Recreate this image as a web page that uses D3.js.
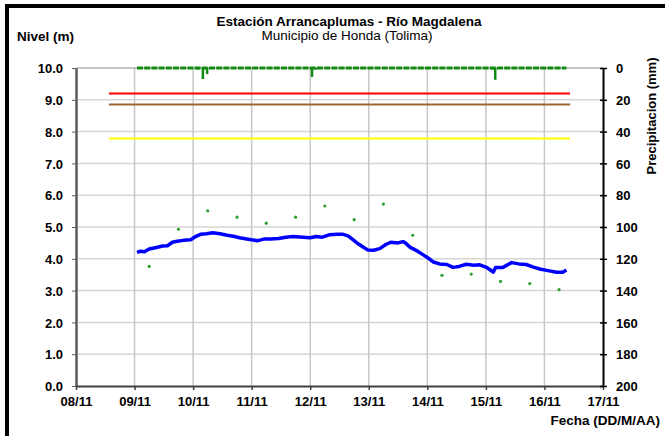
<!DOCTYPE html>
<html>
<head>
<meta charset="utf-8">
<script src="https://cdn.jsdelivr.net/npm/d3@7"></script>
<style>
  body { margin: 0; background: #fff; }
  svg text { font-family: "Liberation Sans", Arial, sans-serif; }
</style>
</head>
<body>
<svg id="chart" width="665" height="436"></svg>
<script>
const width = 665, height = 436;
const parse = d3.timeParse("%d/%m %H:%M");

// Nivel (m) continuous record
const levelTimes = [
  "09/11 01:00","09/11 02:30","09/11 04:00","09/11 06:00","09/11 08:30","09/11 11:30","09/11 13:30",
  "09/11 15:30","09/11 17:30","09/11 20:00","09/11 23:00","10/11 01:00","10/11 03:00","10/11 05:30",
  "10/11 08:00","10/11 11:00","10/11 14:00","10/11 17:00","10/11 19:00","10/11 22:00","11/11 02:30",
  "11/11 05:00","11/11 07:30","11/11 11:00","11/11 14:00","11/11 17:00","11/11 21:00","12/11 00:00",
  "12/11 02:30","12/11 05:00","12/11 08:00","12/11 11:00","12/11 13:30","12/11 15:30","12/11 17:30",
  "12/11 19:30","12/11 21:30","12/11 23:30","13/11 02:00","13/11 04:30","13/11 07:00","13/11 09:00",
  "13/11 12:00","13/11 14:00","13/11 15:00","13/11 17:00","13/11 20:00","13/11 22:00","14/11 00:00",
  "14/11 02:30","14/11 05:00","14/11 08:00","14/11 10:30","14/11 13:00","14/11 16:00","14/11 19:00",
  "14/11 21:30","15/11 00:30","15/11 02:00","15/11 03:00","15/11 04:00","15/11 07:00","15/11 10:30",
  "15/11 13:30","15/11 16:30","15/11 19:30","15/11 22:30","16/11 02:00","16/11 05:00","16/11 07:30",
  "16/11 09:00"
];
const levelValues = [
  4.20, 4.24, 4.22, 4.31, 4.35, 4.40, 4.41,
  4.52, 4.55, 4.58, 4.60, 4.70, 4.77, 4.79,
  4.82, 4.79, 4.74, 4.70, 4.66, 4.62, 4.57,
  4.62, 4.62, 4.64, 4.68, 4.70, 4.68, 4.66,
  4.70, 4.68, 4.76, 4.77, 4.77, 4.72, 4.60,
  4.48, 4.38, 4.28, 4.27, 4.32, 4.45, 4.52,
  4.50, 4.54, 4.50, 4.36, 4.24, 4.14, 4.04,
  3.90, 3.84, 3.82, 3.73, 3.76, 3.83, 3.80,
  3.81, 3.72, 3.64, 3.58, 3.73, 3.73, 3.88,
  3.84, 3.82, 3.74, 3.67, 3.62, 3.58, 3.58,
  3.65
];

// Nivel (m) manual readings
const readingTimes = [
  "09/11 06:00","09/11 18:00","10/11 06:00","10/11 18:00","11/11 06:00","11/11 18:00","12/11 06:00",
  "12/11 18:00","13/11 06:00","13/11 18:00","14/11 06:00","14/11 18:00","15/11 06:00","15/11 18:00",
  "16/11 06:00"
];
const readingValues = [3.76, 4.93, 5.51, 5.31, 5.12, 5.31, 5.66, 5.23, 5.72, 4.74, 3.48, 3.52, 3.29, 3.22, 3.03];

// Precipitacion (mm): record span and non-zero hours
const rainSpan = ["09/11 01:00", "16/11 09:00"];
const rainTimes = ["10/11 02:00", "10/11 04:00", "10/11 05:45", "12/11 00:45", "12/11 02:15", "15/11 02:45", "15/11 03:50"];
const rainValues = [1.0, 6.9, 3.8, 5.7, 1.0, 1.0, 7.4];

// Umbrales (m)
const thresholdValues = [9.2, 8.85, 7.78];
const thresholdColors = ["#ff0000", "#996633", "#ffff00"];
const thresholdSpan = ["08/11 13:30", "16/11 10:30"];

const dayLabels = ["08/11","09/11","10/11","11/11","12/11","13/11","14/11","15/11","16/11","17/11"];
const levelTicks = d3.range(0, 11);
const rainTicks = d3.range(0, 201, 20);

const svg = d3.select("#chart");
svg.append("rect").attr("width", width).attr("height", height).attr("fill", "#fff");

const x = d3.scaleTime()
  .domain([parse("08/11 00:00"), parse("17/11 00:00")])
  .range([76, 603]);
const y = d3.scaleLinear().domain([0, 10]).range([386, 68]);
const yR = d3.scaleLinear().domain([0, 200]).range([68, 386]);
const days = dayLabels.map(d => parse(d + " 00:00"));

// gridlines
svg.append("g").selectAll("line").data(levelTicks.slice(1, 10)).join("line")
  .attr("x1", 76).attr("x2", 603).attr("y1", d => y(d)).attr("y2", d => y(d))
  .attr("stroke", "#d6d6d6").attr("stroke-width", 1.5);
svg.append("g").selectAll("line").data(days.slice(1, 9)).join("line")
  .attr("x1", d => x(d)).attr("x2", d => x(d)).attr("y1", 68).attr("y2", 386)
  .attr("stroke", "#c8c8c8").attr("stroke-width", 1.5);
svg.append("line").attr("x1", 76).attr("x2", 603).attr("y1", y(10)).attr("y2", y(10))
  .attr("stroke", "#8c8c8c").attr("stroke-width", 1);

// thresholds
svg.append("g").selectAll("line").data(thresholdValues).join("line")
  .attr("x1", x(parse(thresholdSpan[0]))).attr("x2", x(parse(thresholdSpan[1])))
  .attr("y1", d => y(d)).attr("y2", d => y(d))
  .attr("stroke", (d, i) => thresholdColors[i]).attr("stroke-width", 2);

// axes
const fontCss = "font-family:'Liberation Sans',Arial,sans-serif;font-weight:bold;font-size:13px;fill:#000";

const gL = svg.append("g").attr("transform", "translate(76,0)")
  .call(d3.axisLeft(y).tickValues(levelTicks).tickFormat(d3.format(".1f"))
    .tickSize(4).tickSizeOuter(0).tickPadding(9));
gL.select(".domain").attr("stroke", "#5a5a5a").attr("stroke-width", 2.5);
gL.selectAll(".tick line").attr("stroke", "#5a5a5a");
gL.selectAll("text").attr("style", fontCss).attr("dy", "0.36em");

const gB = svg.append("g").attr("transform", "translate(0,386)")
  .call(d3.axisBottom(x).tickValues(days).tickFormat(d3.timeFormat("%d/%m"))
    .tickSize(4).tickSizeOuter(0).tickPadding(7));
gB.select(".domain").attr("stroke", "#404040").attr("stroke-width", 2);
gB.selectAll(".tick line").attr("stroke", "#404040").attr("stroke-width", 1.5);
gB.selectAll("text").attr("style", fontCss);

const gR = svg.append("g").attr("transform", "translate(603,0)")
  .call(d3.axisRight(yR).tickValues(rainTicks).tickSize(4).tickSizeOuter(0).tickPadding(9));
gR.select(".domain").attr("stroke", "#000").attr("stroke-width", 2);
gR.selectAll(".tick line").attr("x1", -3).attr("x2", 4).attr("stroke", "#000").attr("stroke-width", 1.5);
gR.selectAll("text").attr("style", fontCss).attr("dy", "0.36em");

// precipitation
svg.append("line")
  .attr("x1", x(parse(rainSpan[0]))).attr("x2", x(parse(rainSpan[1])))
  .attr("y1", yR(0)).attr("y2", yR(0))
  .attr("stroke", "#108a10").attr("stroke-width", 3).attr("stroke-dasharray", "6,1.2");
svg.append("g").selectAll("line").data(rainTimes).join("line")
  .attr("x1", d => x(parse(d))).attr("x2", d => x(parse(d)))
  .attr("y1", yR(0)).attr("y2", (d, i) => yR(rainValues[i]))
  .attr("stroke", "#108a10").attr("stroke-width", 2.5);

// level series
const levelData = levelTimes.map((t, i) => [parse(t), levelValues[i]]);
svg.append("path").datum(levelData)
  .attr("d", d3.line().x(d => x(d[0])).y(d => y(d[1])))
  .attr("fill", "none").attr("stroke", "#0000ff").attr("stroke-width", 3.5)
  .attr("stroke-linejoin", "round");

svg.append("g").selectAll("circle").data(readingTimes).join("circle")
  .attr("cx", d => x(parse(d))).attr("cy", (d, i) => y(readingValues[i]))
  .attr("r", 1.6).attr("fill", "#2e9e2e");

// texts
svg.append("text").attr("x", 349).attr("y", 26).attr("text-anchor", "middle")
  .attr("style", "font-weight:bold;font-size:13.5px").text("Estación Arrancaplumas - Río Magdalena");
svg.append("text").attr("x", 347).attr("y", 40).attr("text-anchor", "middle")
  .attr("style", "font-size:13.5px").text("Municipio de Honda (Tolima)");
svg.append("text").attr("x", 17).attr("y", 41)
  .attr("style", "font-weight:bold;font-size:13.5px").text("Nivel (m)");
svg.append("text").attr("x", 660).attr("y", 425).attr("text-anchor", "end")
  .attr("style", "font-weight:bold;font-size:13.5px").text("Fecha (DD/M/AA)");
svg.append("text").attr("transform", "translate(656,116) rotate(-90)").attr("text-anchor", "middle")
  .attr("style", "font-weight:bold;font-size:13px").text("Precipitacion (mm)");

// outer frame
svg.append("rect").attr("x", 7).attr("y", 6).attr("width", 720).attr("height", 500)
  .attr("fill", "none").attr("stroke", "#000").attr("stroke-width", 4);
</script>
</body>
</html>
